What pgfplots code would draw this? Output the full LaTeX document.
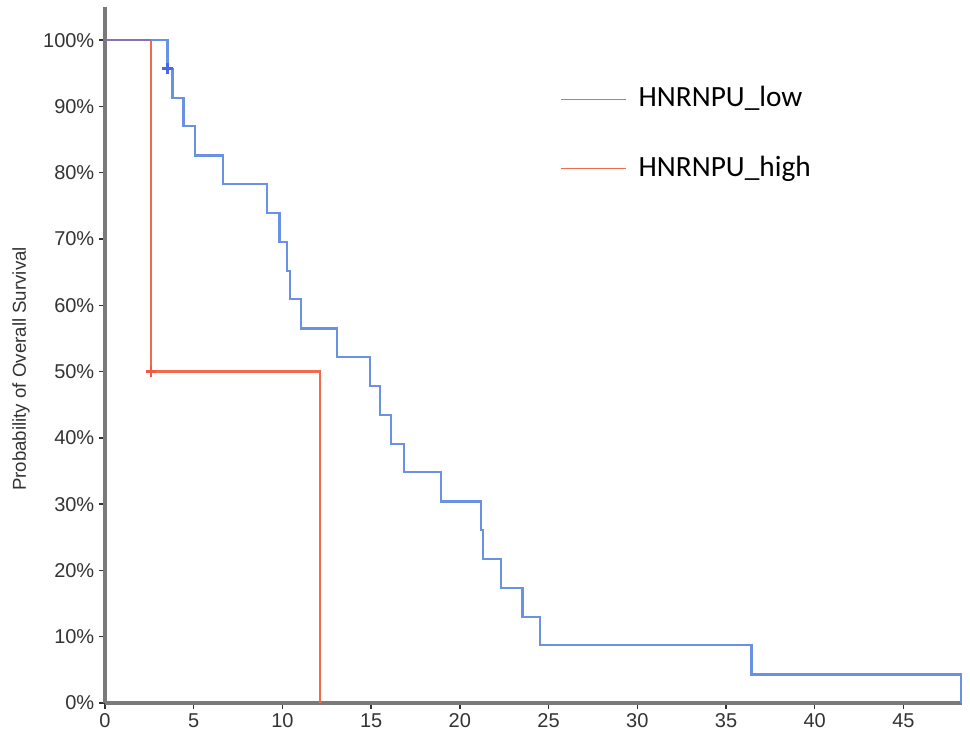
\documentclass[border=0pt]{standalone}
\usepackage{fontspec}
\setmainfont{Liberation Sans}
\newfontfamily\legfont{Carlito}
\usepackage{pgfplots}
\pgfplotsset{compat=1.18}

\definecolor{kmblue}{HTML}{6A92E4}
\definecolor{kmred}{HTML}{F26A4C}
\definecolor{kmpurple}{HTML}{8A6FB8}
\definecolor{axgray}{HTML}{7A7A7A}
\definecolor{txtgray}{HTML}{333333}

\begin{document}
\begin{tikzpicture}
\begin{axis}[
  scale only axis,
  width=642.75pt, height=522pt,
  xmin=0, xmax=48.3,
  ymin=0, ymax=105,
  axis x line=bottom, axis y line=left,
  x axis line style={-, draw=axgray, line width=2.4pt},
  y axis line style={-, draw=axgray, line width=2.4pt},
  tick align=outside,
  major tick length=4.5pt,
  tick style={txtgray, line width=1.1pt},
  xtick={0,5,...,45},
  ytick={0,10,...,100},
  yticklabel={\pgfmathprintnumber{\tick}\%},
  ticklabel style={font=\fontsize{15}{17}\selectfont, text=txtgray},
  /pgf/number format/assume math mode=true,
  ylabel={Probability of Overall Survival},
  every axis y label/.style={at={(rel axis cs:0,0.48)}, xshift=-63pt, rotate=90, anchor=center,
    font=\fontsize{14}{16}\selectfont, text=txtgray},
  legend cell align=left,
  legend style={draw=none, fill=none, inner sep=0pt, at={(rel axis cs:0.531,0.8175)}, anchor=west,
    font=\legfont\fontsize{22}{26}\selectfont, row sep=33pt,
    nodes={inner sep=0pt, text height=15pt, text depth=4pt}},
  legend image code/.code={\draw[#1, line width=1pt] (0pt,0pt) -- (48.75pt,0pt);},
  clip=false,
]
\addplot[const plot mark left, kmblue, line width=1.7pt] coordinates {
  (0,100) (3.53,95.7) (3.81,91.3) (4.42,87.0) (5.07,82.6) (6.65,78.3)
  (9.12,73.9) (9.83,69.6) (10.25,65.2) (10.42,60.9) (11.03,56.5)
  (13.06,52.2) (14.93,47.8) (15.50,43.5) (16.13,39.1) (16.85,34.8)
  (18.94,30.4) (21.21,26.1) (21.32,21.7) (22.31,17.4) (23.53,13.0)
  (24.53,8.7) (36.44,4.3) (48.26,0)
};
\addlegendentry{\hspace{9pt}HNRNPU\_low}
\addplot[const plot mark left, kmred, line width=1.7pt] coordinates {
  (0,100) (2.6,50) (12.1,0)
};
\addlegendentry{\hspace{9pt}HNRNPU\_high}
\addplot[kmpurple, line width=1.7pt, forget plot] coordinates {(0,100) (2.6,100)};
\addplot[only marks, mark=+, mark size=4pt, kmblue!70!blue, line width=1.8pt, forget plot] coordinates {(3.53,95.7)};
\addplot[only marks, mark=+, mark size=4pt, kmred!85!red, line width=1.8pt, forget plot] coordinates {(2.6,50)};
\end{axis}
\path[use as bounding box] ([xshift=-78.75pt, yshift=-24.75pt]current axis.south west)
  rectangle ([xshift=6pt, yshift=5.25pt]current axis.north east);
\end{tikzpicture}
\end{document}
